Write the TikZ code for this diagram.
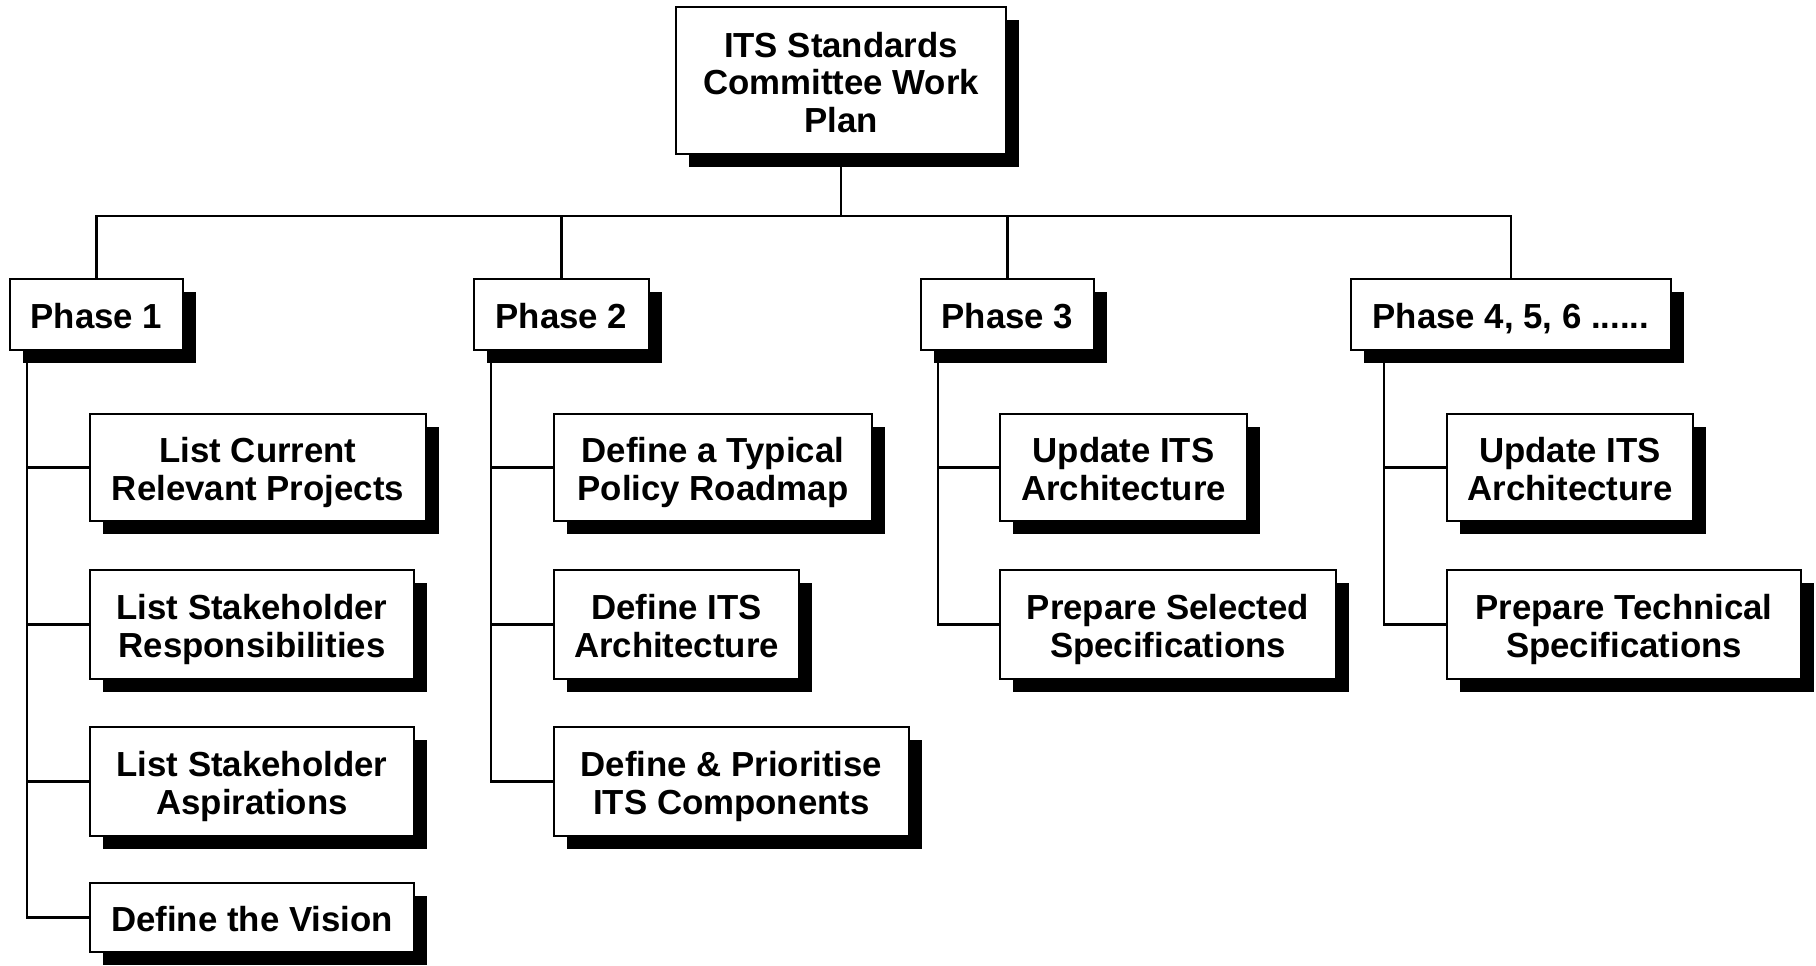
\documentclass[tikz,border=0pt]{standalone}
\usepackage{fontspec}
\setmainfont{Liberation Sans}
\usetikzlibrary{shadows}
\newcommand\mydp{\rule[-4pt]{0pt}{4pt}}
\newcommand\myht{\rule{0pt}{18.3pt}}
\begin{document}
\begin{tikzpicture}[x=0.5pt,y=-0.5pt,
  box/.style={draw, line width=0.9pt, fill=white, rectangle, align=center, inner sep=0pt,
    font=\fontsize{17.4}{18.9}\selectfont\bfseries,
    drop shadow={shadow xshift=6.5pt, shadow yshift=-6.5pt, fill=black, opacity=1}},
  conn/.style={line width=1.2pt}]
\useasboundingbox (0,0) rectangle (1816,965);
% top
\node[box, minimum width=165pt, minimum height=73.5pt] (top) at (841,80.5) {\myht ITS Standards\\Committee Work\\Plan\mydp};
% phases
\node[box, minimum width=86.5pt, minimum height=35.5pt] (p1) at (96.5,314.5) {\myht Phase 1\mydp};
\node[box, minimum width=87.5pt, minimum height=35.5pt] (p2) at (561.5,314.5) {\myht Phase 2\mydp};
\node[box, minimum width=86.5pt, minimum height=35.5pt] (p3) at (1007.5,314.5) {\myht Phase 3\mydp};
\node[box, minimum width=160pt, minimum height=35.5pt] (p4) at (1511,314.5) {\myht Phase 4, 5, 6 ......\mydp};
% phase 1 children
\node[box, minimum width=168pt, minimum height=53.5pt] (c11) at (258,467.5) {\myht List Current\\Relevant Projects\mydp};
\node[box, minimum width=162pt, minimum height=54.5pt] (c12) at (252,624.5) {\myht List Stakeholder\\Responsibilities\mydp};
\node[box, minimum width=162pt, minimum height=54.5pt] (c13) at (252,781.5) {\myht List Stakeholder\\Aspirations\mydp};
\node[box, minimum width=162pt, minimum height=34.5pt] (c14) at (252,917.5) {\myht Define the Vision\mydp};
% phase 2 children
\node[box, minimum width=159pt, minimum height=53.5pt] (c21) at (713,467.5) {\myht Define a Typical\\Policy Roadmap\mydp};
\node[box, minimum width=122.5pt, minimum height=54.5pt] (c22) at (676.5,624.5) {\myht Define ITS\\Architecture\mydp};
\node[box, minimum width=177.5pt, minimum height=54.5pt] (c23) at (731.5,781.5) {\myht Define \& Prioritise\\ITS Components\mydp};
% phase 3 children
\node[box, minimum width=123.5pt, minimum height=53.5pt] (c31) at (1123.5,467.5) {\myht Update ITS\\Architecture\mydp};
\node[box, minimum width=168pt, minimum height=54.5pt] (c32) at (1168,624.5) {\myht Prepare Selected\\Specifications\mydp};
% phase 4 children
\node[box, minimum width=123pt, minimum height=53.5pt] (c41) at (1570,467.5) {\myht Update ITS\\Architecture\mydp};
\node[box, minimum width=177pt, minimum height=54.5pt] (c42) at (1624,624.5) {\myht Prepare Technical\\Specifications\mydp};
% top connectors
\coordinate (bar) at (841,216);
\draw[conn] (top.south) -- (top.south |- bar);
\draw[conn] (p1.north) |- (bar) -| (p4.north);
\draw[conn] (p2.north) -- (p2.north |- bar);
\draw[conn] (p3.north) -- (p3.north |- bar);
% trunks
\coordinate (t1) at (27,350);
\coordinate (t2) at (491,350);
\coordinate (t3) at (938,350);
\coordinate (t4) at (1384,350);
\draw[conn] (t1) |- (c14.west);
\draw[conn] (t1 |- c11.west) -- (c11.west);
\draw[conn] (t1 |- c12.west) -- (c12.west);
\draw[conn] (t1 |- c13.west) -- (c13.west);
\draw[conn] (t2) |- (c23.west);
\draw[conn] (t2 |- c21.west) -- (c21.west);
\draw[conn] (t2 |- c22.west) -- (c22.west);
\draw[conn] (t3) |- (c32.west);
\draw[conn] (t3 |- c31.west) -- (c31.west);
\draw[conn] (t4) |- (c42.west);
\draw[conn] (t4 |- c41.west) -- (c41.west);
\end{tikzpicture}
\end{document}
